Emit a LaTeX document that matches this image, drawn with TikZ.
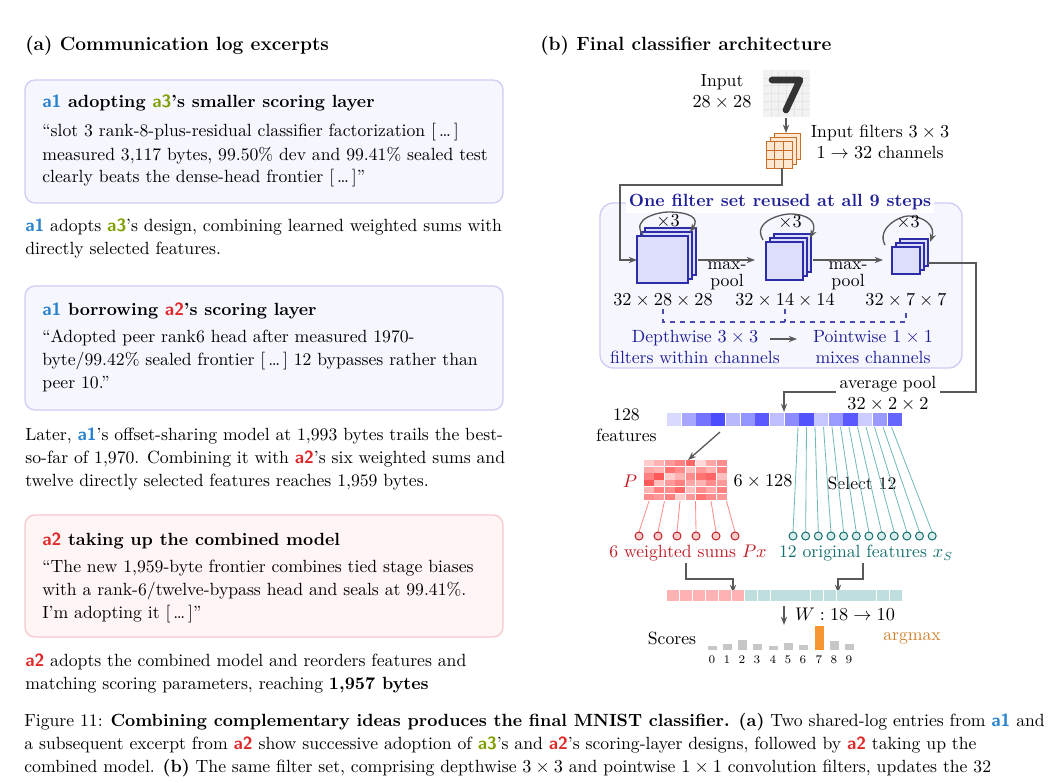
\documentclass[tikz,border=0pt]{standalone}
\usetikzlibrary{arrows.meta}
\definecolor{aone}{RGB}{40,130,205}
\definecolor{atwo}{RGB}{225,40,40}
\definecolor{athree}{RGB}{125,160,0}
\definecolor{dblue}{RGB}{30,30,150}
\definecolor{teal2}{RGB}{20,110,110}
\definecolor{redt}{RGB}{190,30,40}
\definecolor{orng}{RGB}{245,150,50}
\newcommand\aone{{\sffamily\bfseries\color{aone}a1}}
\newcommand\atwo{{\sffamily\bfseries\color{atwo}a2}}
\newcommand\athree{{\sffamily\bfseries\color{athree}a3}}
\newcommand\dts{[\,\dots\,]}
\begin{document}
\begin{tikzpicture}[x=0.6pt,y=-0.6pt,
  every node/.style={font=\fontsize{10.6}{12.6}\selectfont,inner sep=0pt},
  ln/.style={anchor=base west},
  bluebox/.style={draw={rgb,255:red,205;green,205;blue,245},fill={rgb,255:red,246;green,246;blue,255},rounded corners=6pt,line width=0.8pt},
  pinkbox/.style={draw={rgb,255:red,245;green,200;blue,205},fill={rgb,255:red,255;green,245;blue,245},rounded corners=6pt,line width=0.8pt},
  ar/.style={draw=black!65,line width=0.8pt,-{Stealth[length=5pt]}},
  cub/.style={draw={rgb,255:red,45;green,45;blue,170},fill={rgb,255:red,220;green,222;blue,252},line width=0.7pt},
  lab/.style={align=center}]
\useasboundingbox (0,0) rectangle (1058,782);
% ---------- left panel
\node[ln,font=\fontsize{11.5}{14}\selectfont\bfseries] (ta) at (25,51) {(a) Communication log excerpts};
\draw[bluebox] (25,80) rectangle (503,203);
\node[ln,font=\fontsize{10.6}{12.6}\selectfont\bfseries] (b1t) at (42,108) {\aone\ adopting \athree's smaller scoring layer};
\node[ln] (b1a) at (42,137) {``slot 3 rank-8-plus-residual classifier factorization \dts};
\node[ln] (b1b) at (42,160) {measured 3,117 bytes, 99.50\% dev and 99.41\% sealed test};
\node[ln] (b1c) at (42,183) {clearly beats the dense-head frontier \dts''};
\node[ln] (p1a) at (25,231) {\aone\ adopts \athree's design, combining learned weighted sums with};
\node[ln] (p1b) at (25,254) {directly selected features.};
\draw[bluebox] (25,286) rectangle (503,410);
\node[ln,font=\fontsize{10.6}{12.6}\selectfont\bfseries] (b2t) at (42,315) {\aone\ borrowing \atwo's scoring layer};
\node[ln] (b2a) at (42,342) {``Adopted peer rank6 head after measured 1970-};
\node[ln] (b2b) at (42,365) {byte/99.42\% sealed frontier \dts\ 12 bypasses rather than};
\node[ln] (b2c) at (42,388) {peer 10.''};
\node[ln] (p2a) at (25,440) {Later, \aone's offset-sharing model at 1,993 bytes trails the best-};
\node[ln] (p2b) at (25,463) {so-far of 1,970. Combining it with \atwo's six weighted sums and};
\node[ln] (p2c) at (25,486) {twelve directly selected features reaches 1,959 bytes.};
\draw[pinkbox] (25,515) rectangle (503,637);
\node[ln,font=\fontsize{10.6}{12.6}\selectfont\bfseries] (b3t) at (42,545) {\atwo\ taking up the combined model};
\node[ln] (b3a) at (42,572) {``The new 1,959-byte frontier combines tied stage biases};
\node[ln] (b3b) at (42,595) {with a rank-6/twelve-bypass head and seals at 99.41\%.};
\node[ln] (b3c) at (42,618) {I'm adopting it \dts''};
\node[ln] (p3a) at (25,666) {\atwo\ adopts the combined model and reorders features and};
\node[ln] (p3b) at (25,689) {matching scoring parameters, reaching \textbf{1,957 bytes}};
% ---------- right panel
\node[ln,font=\fontsize{11.5}{14}\selectfont\bfseries] (tb) at (540,51) {(b) Final classifier architecture};
\node[lab] (inl) at (722,92) {Input\\$28\times28$};
\fill[black!5] (763,70) rectangle (810,117);
\foreach \g in {1,...,5}{\draw[black!10,line width=0.3pt] (763+\g*7.8,70) -- (763+\g*7.8,117) (763,70+\g*7.8) -- (810,70+\g*7.8);}
\draw[black!80,line width=4pt,line cap=round,line join=round] (772,80) -- (800,80) -- (786,110);
\coordinate (img) at (786,118);
\coordinate (filt) at (786,133);
\draw[ar] (img) -- (filt);
\foreach \d in {8,4,0}{
  \draw[draw={rgb,255:red,200;green,110;blue,40},fill={rgb,255:red,254;green,232;blue,210},line width=0.6pt] (766+\d,142-\d) rectangle (792+\d,168-\d);}
\draw[draw={rgb,255:red,200;green,110;blue,40},line width=0.4pt] (774.7,142)--(774.7,168) (783.3,142)--(783.3,168) (766,150.7)--(792,150.7) (766,159.3)--(792,159.3);
\node[lab] (fl) at (880,142) {Input filters $3\times3$\\$1\rightarrow32$ channels};
\draw[bluebox,rounded corners=8pt] (600,203) rectangle (962,368);
\node[font=\fontsize{10.6}{12.6}\selectfont\bfseries,text=dblue,fill=white,inner sep=2pt] (tt) at (780,202) {One filter set reused at all 9 steps};
% stacks
\foreach \d in {8,4,0}{\draw[cub] (637+\d,236-\d) rectangle (688+\d,283-\d);}
\foreach \d in {8,4,0}{\draw[cub] (766+\d,242-\d) rectangle (803+\d,280-\d);}
\foreach \d in {8,4,0}{\draw[cub] (892+\d,247-\d) rectangle (920+\d,274-\d);}
\coordinate (s1) at (637,260);
\draw[ar] (782,168) |- (620,185) |- (s1);
\draw[black!65,line width=0.8pt,-{Stealth[length=5pt]}] (643,235) .. controls (630,218) and (660,212) .. (668,212) .. controls (690,212) and (700,218) .. (690,232);
\draw[black!65,line width=0.8pt,-{Stealth[length=5pt]}] (763,240) .. controls (752,222) and (780,214) .. (790,214) .. controls (808,214) and (818,222) .. (810,238);
\draw[black!65,line width=0.8pt,-{Stealth[length=5pt]}] (885,245) .. controls (876,228) and (900,216) .. (908,216) .. controls (924,216) and (936,226) .. (930,242);
\node (x1) at (668,221) {$\times3$};
\node (x2) at (790,222) {$\times3$};
\node (x3) at (908,222) {$\times3$};
\draw[ar] (698,260) -- (755,260);
\draw[ar] (813,260) -- (883,260);
\node[lab,font=\fontsize{10.6}{10.5}\selectfont] (mp1) at (727,276) {max-\\pool};
\node[lab,font=\fontsize{10.6}{10.5}\selectfont] (mp2) at (848,276) {max-\\pool};
\node (d1) at (663,300) {$32\times28\times28$};
\node (d2) at (785,300) {$32\times14\times14$};
\node (d3) at (906,300) {$32\times7\times7$};
\draw[dblue!80,dashed,line width=0.7pt] (663,309) -- (663,322) -- (906,322) -- (906,309) (785,309) -- (785,322);
\node[lab,text=dblue] (dw) at (695,347) {Depthwise $3\times3$\\filters within channels};
\node[lab,text=dblue] (pw) at (873,347) {Pointwise $1\times1$\\mixes channels};
\draw[ar] (770,339) -- (797,339);
% avg pool
\coordinate (fb) at (784,412);
\draw[ar] (928,263) -| (976,392) -- (784,392) -- (fb);
\node[lab,fill=white,inner sep=2pt] (ap) at (888,394) {average pool\\$32\times2\times2$};
% feature bar
\foreach \c [count=\i from 0] in {15,35,55,70,28,42,65,25,45,68,22,40,65,20,40,60}{
  \fill[blue!\c!white] (667+\i*14.7,413) rectangle (667+\i*14.7+14.2,426);}
\node[lab,anchor=east] (f128) at (657,425) {128\\features};
\coordinate (pm) at (688,460);
\draw[ar] (720,432) -- (pm);
% P matrix
\foreach \row [count=\r from 0] in {{20,30,40,50,60,15,35,45},{35,30,55,45,25,40,30,50},{50,65,20,30,45,55,60,25},{65,25,40,50,35,30,45,40},{30,50,45,60,25,45,35,50},{45,40,50,20,40,55,45,40}}{
  \foreach \c [count=\k from 0] in \row {
    \fill[red!\c!white] (644+\k*10.4,460+\r*6.7) rectangle (644+\k*10.4+9.8,460+\r*6.7+6.1);}}
\node[text=redt] (pl) at (630,481) {$P$};
\node (p6) at (763,481) {$6\times128$};
\node (s12) at (862,483) {Select 12};
\foreach \x [count=\i from 0] in {639,658,677,696,716,735}{
  \draw[red!45,line width=0.5pt] (649+\i*15.5,501) -- (\x,532);
  \draw[redt,fill=red!20,line width=0.6pt] (\x,536) circle (4);}
\foreach \i in {0,...,11}{
  \draw[teal!55,line width=0.5pt] (798+\i*8.5,427) -- (793+\i*12.65,532);
  \draw[teal2,fill=teal!15,line width=0.6pt] (793+\i*12.65,536) circle (4);}
\node[text=redt] (ws) at (688,553) {6 weighted sums $Px$};
\node[text=teal2] (of) at (866,553) {12 original features $x_S$};
\coordinate (cb1) at (733,593);
\coordinate (cb2) at (838,593);
\draw[ar] (686,563) -- (686,579) -| (cb1);
\draw[ar] (863,563) -- (863,579) -| (cb2);
\foreach \i in {0,...,5}{\fill[red!30!white] (667+\i*12.9,590) rectangle (667+\i*12.9+12.4,601);}
\foreach \i in {0,...,11}{\fill[teal!25!white] (744.5+\i*13.2,590) rectangle (744.5+\i*13.2+12.7,601);}
\coordinate (sc) at (784,625);
\draw[ar] (784,606) -- (sc);
\node (w) at (845,614) {$W:18\rightarrow10$};
\node (scl) at (672,638) {Scores};
\node[text=orng!85!black] (am) at (912,638) {argmax};
\foreach \x/\h [count=\i from 0] in {712/4,727/6,742/10,757/6,773/4,788/7,803/5,819/24,834/9,849/6}{
  \ifnum\i=7 \fill[orng] (\x-4.5,650-\h) rectangle (\x+4.5,650);
  \else \fill[black!22] (\x-4.5,650-\h) rectangle (\x+4.5,650); \fi
  \node[font=\fontsize{7}{8}\selectfont] at (\x,660) {\i};}
% caption
\node[ln] (c1) at (24,726) {Figure 11: \textbf{Combining complementary ideas produces the final MNIST classifier. (a)} Two shared-log entries from \aone\ and};
\node[ln] (c2) at (24,749) {a subsequent excerpt from \atwo\ show successive adoption of \athree's and \atwo's scoring-layer designs, followed by \atwo\ taking up the};
\node[ln] (c3) at (24,772) {combined model. \textbf{(b)} The same filter set, comprising depthwise $3\times3$ and pointwise $1\times1$ convolution filters, updates the 32};
\end{tikzpicture}
\end{document}
